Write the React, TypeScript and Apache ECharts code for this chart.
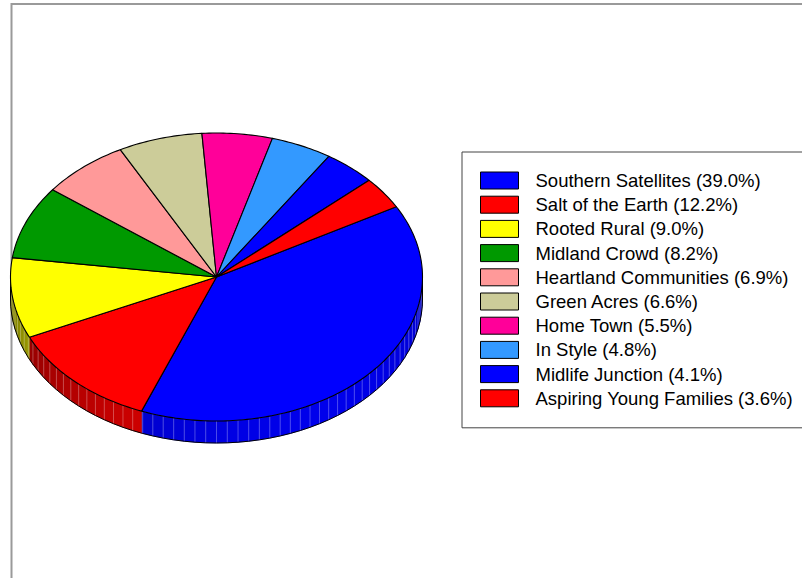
import React, { useEffect, useRef } from "react";
import * as echarts from "echarts";

const categories = [
  "Southern Satellites",
  "Salt of the Earth",
  "Rooted Rural",
  "Midland Crowd",
  "Heartland Communities",
  "Green Acres",
  "Home Town",
  "In Style",
  "Midlife Junction",
  "Aspiring Young Families",
];
const values = [39.0, 12.2, 9.0, 8.2, 6.9, 6.6, 5.5, 4.8, 4.1, 3.6];
const colors = [
  "#0000FF",
  "#FF0000",
  "#FFFF00",
  "#009900",
  "#FF9999",
  "#CCCC99",
  "#FF0099",
  "#3399FF",
  "#0000FF",
  "#FF0000",
];

const PIE = { cx: 216.5, cy: 277, rx: 206, ry: 144, depth: 22, start: 29.2 };

function shade(hex: string, f: number): string {
  const h = hex.replace("#", "");
  const r = parseInt(h.slice(0, 2), 16);
  const g = parseInt(h.slice(2, 4), 16);
  const b = parseInt(h.slice(4, 6), 16);
  const c = (v: number) => Math.max(0, Math.min(255, Math.round(v * f)));
  return `rgb(${c(r)},${c(g)},${c(b)})`;
}
function lighten(hex: string, f: number, t: number): string {
  const h = hex.replace("#", "");
  const r = parseInt(h.slice(0, 2), 16) * f;
  const g = parseInt(h.slice(2, 4), 16) * f;
  const b = parseInt(h.slice(4, 6), 16) * f;
  const m = (v: number) => Math.round(v + (255 - v) * t);
  return `rgb(${m(r)},${m(g)},${m(b)})`;
}

export default function App() {
  const ref = useRef<HTMLDivElement>(null);
  useEffect(() => {
    if (!ref.current) return;
    const chart = echarts.init(ref.current, undefined, { renderer: "svg" });
    const total = values.reduce((a, b) => a + b, 0);
    const { cx, cy, rx, ry, depth, start } = PIE;
    const pt = (a: number, dy = 0): number[] => {
      const r = (a * Math.PI) / 180;
      return [cx + rx * Math.cos(r), cy - ry * Math.sin(r) + dy];
    };
    const sideFactor = (a: number) =>
      Math.max(0.45, Math.min(1, 0.62 + 0.3 * Math.cos(((a + 60) * Math.PI) / 180)));

    const renderItem = (params: any, api: any) => {
      const before = api.value(0) as number;
      const v = api.value(1) as number;
      const idx = api.value(2) as number;
      const base = colors[idx];
      const color = api.visual("color") || base;
      const a0 = start - (before / total) * 360;
      const a1 = a0 - (v / total) * 360;
      const children: any[] = [];
      const s0 = Math.min(a0, 0);
      const s1 = Math.max(a1, -180);
      if (s0 > s1) {
        const bounds: number[] = [s0];
        let g = Math.floor(s0 / 3) * 3;
        if (g >= s0) g -= 3;
        while (g > s1) {
          bounds.push(g);
          g -= 3;
        }
        bounds.push(s1);
        for (let i = 0; i < bounds.length - 1; i++) {
          const b0 = bounds[i];
          const b1 = bounds[i + 1];
          const mid = (b0 + b1) / 2;
          children.push({
            type: "polygon",
            shape: { points: [pt(b0), pt(b1), pt(b1, depth), pt(b0, depth)] },
            style: { fill: shade(base, sideFactor(mid)), stroke: shade(base, sideFactor(mid)), lineWidth: 0.5 },
          });
        }
        for (let i = 1; i < bounds.length - 1; i++) {
          const b = bounds[i];
          const p0 = pt(b);
          const p1 = pt(b, depth);
          children.push({
            type: "line",
            shape: { x1: p0[0], y1: p0[1], x2: p1[0], y2: p1[1] },
            style: { stroke: lighten(base, sideFactor(b), 0.35), lineWidth: 0.8 },
          });
        }
        const bottom: number[][] = [];
        for (let i = 0; i < bounds.length; i++) bottom.push(pt(bounds[i], depth));
        children.push({
          type: "polyline",
          shape: { points: bottom },
          style: { stroke: "#000", lineWidth: 1, fill: null },
        });
        if (s1 === -180 || s0 === 0) {
          const e = s1 === -180 ? s1 : s0;
          const p0 = pt(e);
          const p1 = pt(e, depth);
          children.push({
            type: "line",
            shape: { x1: p0[0], y1: p0[1], x2: p1[0], y2: p1[1] },
            style: { stroke: "#000", lineWidth: 1 },
          });
        }
      }
      const pts: number[][] = [[cx, cy]];
      const steps = Math.max(2, Math.ceil(a0 - a1));
      for (let i = 0; i <= steps; i++) pts.push(pt(a0 - ((a0 - a1) * i) / steps));
      children.push({
        type: "polygon",
        shape: { points: pts },
        style: { fill: color, stroke: "#000", lineWidth: 1.1, lineJoin: "round" },
      });
      return { type: "group", children };
    };

    let cum = 0;
    const series = categories.map((name, i) => {
      const before = cum;
      cum += values[i];
      return {
        type: "custom",
        name,
        coordinateSystem: "none",
        renderItem,
        itemStyle: { color: colors[i], borderColor: "#000", borderWidth: 1 },
        data: [[before, values[i], i]],
        silent: true,
      };
    });

    const pctMap: Record<string, string> = {};
    categories.forEach((c, i) => (pctMap[c] = values[i].toFixed(1)));

    chart.setOption({
      animation: false,
      backgroundColor: "#fff",
      graphic: [
        {
          type: "rect",
          z: -10,
          shape: { x: 11.5, y: 4, width: 900, height: 700 },
          style: { fill: "none", stroke: "#9a9a9a", lineWidth: 2 },
        },
      ],
      legend: {
        orient: "vertical",
        left: 462,
        top: 152,
        padding: [19, 12, 20, 18],
        itemWidth: 38,
        itemHeight: 17,
        itemGap: 5.2,
        icon: "rect",
        borderColor: "#444",
        borderWidth: 1,
        backgroundColor: "#fff",
        selectedMode: false,
        itemStyle: { borderColor: "#000", borderWidth: 1 },
        textStyle: {
          fontSize: 18.5,
          lineHeight: 17,
          color: "#000",
          fontFamily: '"Liberation Sans", Arial, sans-serif',
          padding: [0, 0, 0, 12],
        },
        formatter: (name: string) => `${name} (${pctMap[name]}%)`,
        data: categories,
      },
      series,
    });
    return () => chart.dispose();
  }, []);
  return (
    <div
      ref={ref}
      style={{ position: "fixed", left: 0, top: 0, width: 802, height: 578 }}
    />
  );
}
